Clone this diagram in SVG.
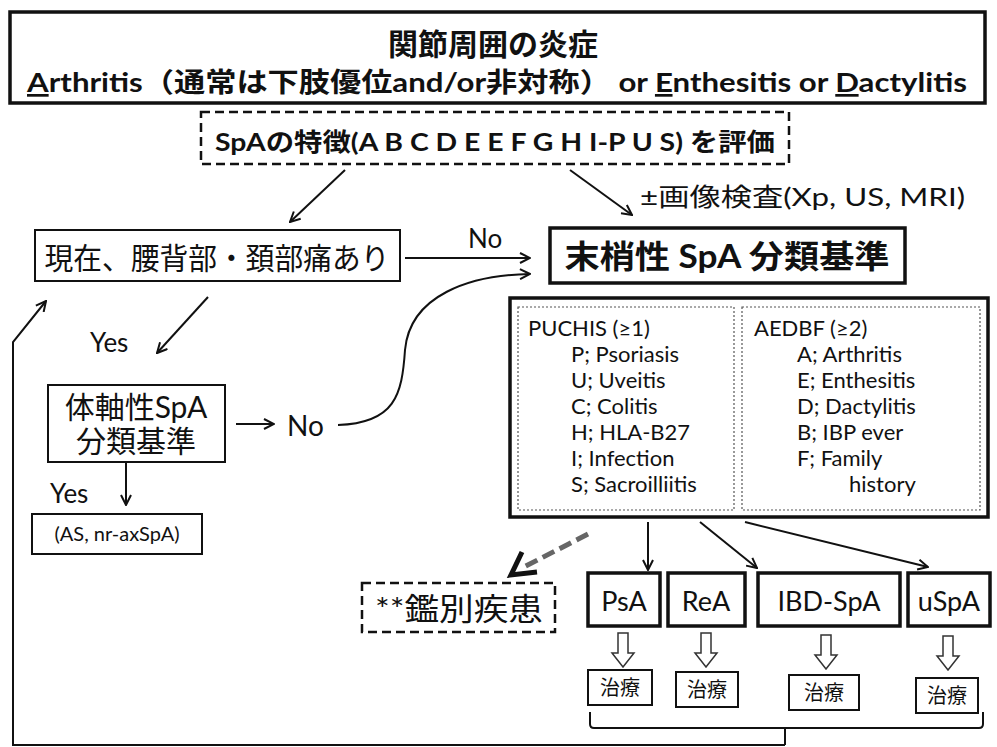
<svg xmlns="http://www.w3.org/2000/svg" width="997" height="747" viewBox="0 0 997 747">
<style>
text{font-family:Lato,"Noto Sans CJK JP",sans-serif;fill:#111}
.b{font-weight:bold}
.box{fill:#fff;stroke:#111;stroke-width:2}
.thick{fill:#fff;stroke:#111;stroke-width:3.5}
.dash{fill:#fff;stroke:#111;stroke-width:2.5;stroke-dasharray:9 5}
.dot{fill:none;stroke:#555;stroke-width:1.2;stroke-dasharray:2 2}
.ln{fill:none;stroke:#111;stroke-width:2}
.hol{fill:#fff;stroke:#333;stroke-width:1.5}
</style>
<defs>
<marker id="ah" viewBox="0 0 12 12" refX="11" refY="6" markerWidth="12" markerHeight="12" markerUnits="userSpaceOnUse" orient="auto">
<path d="M1,1 L11,6 L1,11" fill="none" stroke="#111" stroke-width="2"/>
</marker>
<path id="hollow" d="M-5,0 L5,0 L5,20 L11,20 L0,34 L-11,20 L-5,20 Z"/>
</defs>
<rect width="997" height="747" fill="#fff"/>

<g id="connectors">
<line class="ln" x1="345" y1="170" x2="290" y2="222" marker-end="url(#ah)"/>
<line class="ln" x1="570" y1="170" x2="632" y2="215" marker-end="url(#ah)"/>
<line class="ln" x1="405" y1="258" x2="530" y2="258" marker-end="url(#ah)"/>
<line class="ln" x1="208" y1="297" x2="157" y2="353" marker-end="url(#ah)"/>
<path class="ln" d="M338,425 C395,423 402,395 405,350 C410,295 470,275 530,274" marker-end="url(#ah)"/>
<line class="ln" x1="236" y1="424" x2="274" y2="424" marker-end="url(#ah)"/>
<line class="ln" x1="126" y1="463" x2="126" y2="505" marker-end="url(#ah)"/>
<path class="ln" d="M785,745 L13,745 L13,342 L46,301" marker-end="url(#ah)"/>
<line class="ln" x1="648" y1="522" x2="648" y2="570" marker-end="url(#ah)"/>
<line class="ln" x1="700" y1="522" x2="757" y2="568" marker-end="url(#ah)"/>
<line class="ln" x1="745" y1="522" x2="928" y2="567" marker-end="url(#ah)"/>
<line x1="588" y1="534" x2="522" y2="568" stroke="#666" stroke-width="5" stroke-dasharray="13 6"/>
<path d="M522,552 L511,575 L537,572" fill="none" stroke="#111" stroke-width="5" stroke-linejoin="miter"/>
<use href="#hollow" class="hol" x="623" y="633"/>
<use href="#hollow" class="hol" x="706" y="633"/>
<use href="#hollow" class="hol" x="826" y="635"/>
<use href="#hollow" class="hol" x="948" y="636"/>
<path class="ln" d="M590,712 L590,724 Q590,728 594,728 L785,728 L785,745 M785,728 L979,728 Q983,728 983,724 L983,712" stroke-width="2.5"/>
</g>

<g id="n-top">
<rect class="thick" x="10" y="12" width="975" height="91"/>
<text class="b" x="493" y="55" font-size="30" text-anchor="middle">関節周囲の炎症</text>
<text class="b" x="497" y="92" font-size="27" text-anchor="middle" textLength="940" lengthAdjust="spacingAndGlyphs"><tspan text-decoration="underline">A</tspan>rthritis（通常は下肢優位and/or非対称） or <tspan text-decoration="underline">E</tspan>nthesitis or <tspan text-decoration="underline">D</tspan>actylitis</text>
</g>

<g id="n-eval">
<rect class="dash" x="201" y="112" width="588" height="52"/>
<text class="b" x="495" y="151" font-size="25" text-anchor="middle" textLength="560" lengthAdjust="spacingAndGlyphs">SpAの特徴(A B C D E E F G H I-P U S) を評価</text>
</g>

<text id="t-img" x="640" y="206" font-size="25" textLength="325" lengthAdjust="spacingAndGlyphs">±画像検査(Xp, US, MRI)</text>

<g id="n-pain">
<rect class="box" x="35" y="230" width="365" height="51"/>
<text x="217" y="269" font-size="30" text-anchor="middle" textLength="345" lengthAdjust="spacingAndGlyphs">現在、腰背部・頚部痛あり</text>
</g>
<text x="468" y="248" font-size="26">No</text>

<g id="n-peri">
<rect class="thick" x="550" y="228" width="355" height="55"/>
<text class="b" x="727" y="268" font-size="32" text-anchor="middle" textLength="325" lengthAdjust="spacingAndGlyphs">末梢性 SpA 分類基準</text>
</g>

<text x="90" y="352" font-size="26">Yes</text>

<g id="n-axial">
<rect class="box" x="48" y="385" width="177" height="77"/>
<text x="136" y="418" font-size="30" text-anchor="middle">体軸性SpA</text>
<text x="136" y="452" font-size="30" text-anchor="middle">分類基準</text>
</g>
<text x="287" y="436" font-size="28">No</text>
<text x="50" y="503" font-size="26">Yes</text>

<g id="n-as">
<rect class="box" x="32" y="514" width="170" height="40" stroke-width="1.5"/>
<text x="117" y="541" font-size="20" text-anchor="middle">(AS, nr-axSpA)</text>
</g>

<g id="n-criteria">
<rect class="thick" x="510" y="298" width="478" height="219"/>
<rect class="dot" x="518" y="307" width="216" height="203"/>
<rect class="dot" x="742" y="307" width="238" height="203"/>
<g font-size="22">
<text x="528" y="336">PUCHIS (≥1)</text>
<text x="571" y="362">P; Psoriasis</text>
<text x="571" y="388">U; Uveitis</text>
<text x="571" y="414">C; Colitis</text>
<text x="571" y="440">H; HLA-B27</text>
<text x="571" y="466">I; Infection</text>
<text x="571" y="492">S; Sacroilliitis</text>
<text x="754" y="336">AEDBF (≥2)</text>
<text x="797" y="362">A; Arthritis</text>
<text x="797" y="388">E; Enthesitis</text>
<text x="797" y="414">D; Dactylitis</text>
<text x="797" y="440">B; IBP ever</text>
<text x="797" y="466">F; Family</text>
<text x="849" y="492">history</text>
</g>
</g>

<g id="n-diff">
<rect class="dash" x="362" y="583" width="193" height="49"/>
<text x="459" y="620" font-size="31" text-anchor="middle" textLength="168" lengthAdjust="spacingAndGlyphs">**鑑別疾患</text>
</g>

<g id="n-psa"><rect class="thick" x="588" y="573" width="72" height="53" stroke-width="2.5"/><text x="624" y="611" font-size="27" text-anchor="middle">PsA</text></g>
<g id="n-rea"><rect class="thick" x="668" y="573" width="77" height="53" stroke-width="2.5"/><text x="706" y="611" font-size="27" text-anchor="middle">ReA</text></g>
<g id="n-ibd"><rect class="thick" x="758" y="573" width="142" height="53" stroke-width="2.5"/><text x="829" y="611" font-size="27" text-anchor="middle">IBD-SpA</text></g>
<g id="n-uspa"><rect class="thick" x="908" y="573" width="82" height="53" stroke-width="2.5"/><text x="949" y="611" font-size="27" text-anchor="middle">uSpA</text></g>

<g id="n-tx1"><rect class="box" x="588" y="670" width="64" height="35" stroke-width="1.5"/><text x="620" y="695" font-size="20" text-anchor="middle">治療</text></g>
<g id="n-tx2"><rect class="box" x="676" y="672" width="62" height="35" stroke-width="1.5"/><text x="707" y="697" font-size="20" text-anchor="middle">治療</text></g>
<g id="n-tx3"><rect class="box" x="789" y="675" width="70" height="35" stroke-width="1.5"/><text x="824" y="700" font-size="20" text-anchor="middle">治療</text></g>
<g id="n-tx4"><rect class="box" x="916" y="678" width="62" height="35" stroke-width="1.5"/><text x="947" y="703" font-size="20" text-anchor="middle">治療</text></g>
</svg>
